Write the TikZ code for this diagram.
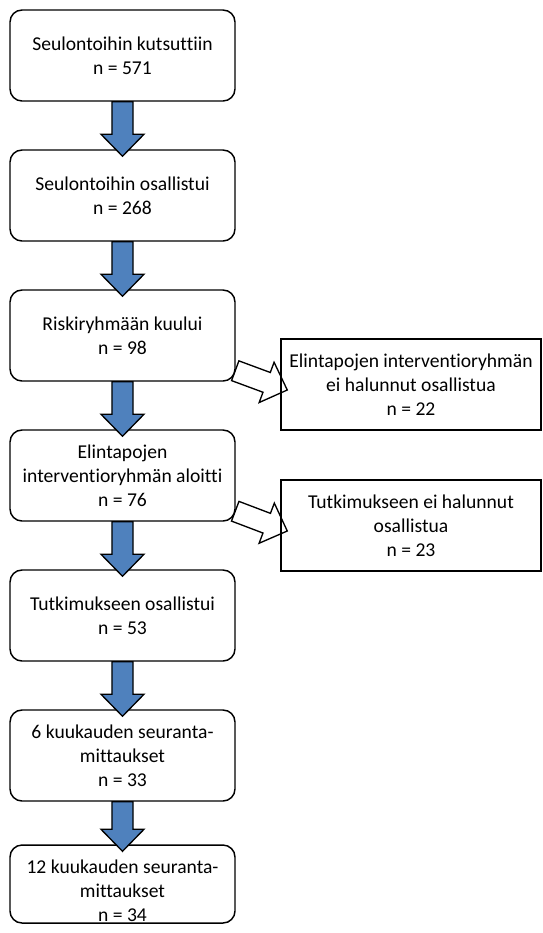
\documentclass[tikz,border=0pt]{standalone}
\usepackage{fontspec}
\setmainfont{Carlito}[RawFeature={-liga;-clig;-calt;-dlig}]
\usetikzlibrary{calc, backgrounds}
\definecolor{flowblue}{RGB}{79,129,189}
% block arrow from #2 to #3, filled with #1
\newcommand{\flowarrow}[3]{%
    \coordinate (tail) at (#2);
    \coordinate (tip) at (#3);
    \coordinate (headbase) at ($(tip)!16.5pt!(tail)$);
    \draw[line width=1pt, fill=#1] ($(tail)!7.9pt!90:(tip)$) -- ($(headbase)!7.9pt!90:(tip)$)
        -- ($(headbase)!16.1pt!90:(tip)$) -- (tip) -- ($(headbase)!16.1pt!-90:(tip)$)
        -- ($(headbase)!7.9pt!-90:(tip)$) -- ($(tail)!7.9pt!-90:(tip)$) -- cycle;
}
\begin{document}
\begin{tikzpicture}[x=0.75pt, y=-0.75pt, node distance={105pt},
        main/.style = {draw, rounded corners=9pt, line width=1.1pt, minimum width=168.75pt, minimum height=68.25pt, inner sep=0pt, align=center, font=\fontsize{14.7pt}{18pt}\selectfont},
        side/.style = {draw, line width=1.1pt, minimum width=195pt, minimum height=68.25pt, inner sep=0pt, align=center, font=\fontsize{14.7pt}{18pt}\selectfont}]
            \useasboundingbox (0,0) rectangle (543,933);
            \node[main] (1) at (122.5,55.5) {Seulontoihin kutsuttiin\\n = 571};
            \node[main] (2) [below of=1] {Seulontoihin osallistui\\n = 268};
            \node[main] (3) [below of=2] {Riskiryhmään kuului\\n = 98};
            \node[main] (4) [below of=3] {Elintapojen\\interventioryhmän aloitti\\n = 76};
            \node[main] (5) [below of=4] {Tutkimukseen osallistui\\n = 53};
            \node[main] (6) [below of=5] {6 kuukauden seuranta-\\mittaukset\\n = 33};
            \node[main, minimum height=58.5pt] (7) [below of=6, node distance=96.4pt] {};
            \node[align=center, inner sep=0pt, font=\fontsize{14.7pt}{18pt}\selectfont] (7text) [below of=7, node distance=5.25pt] {12 kuukauden seuranta-\\mittaukset\\n = 34};
            \node[side] (8) at (411,384.5) {Elintapojen interventioryhmän\\ei halunnut osallistua\\n = 22};
            \node[side] (9) at (411,525.5) {Tutkimukseen ei halunnut\\osallistua\\n = 23};
            % main flow
            \foreach \a/\b in {1/2, 2/3, 3/4, 4/5, 5/6, 6/7}
                \flowarrow{flowblue}{\a.south}{$(\b.north)+(0,7)$};
            % drop-outs
            \begin{scope}[on background layer]
                \flowarrow{white}{$(3.south east)+(-0.5,-11)$}{$(8.west)+(7,5.5)$};
                \flowarrow{white}{$(4.south east)+(-0.5,-10.5)$}{$(9.west)+(7,5.5)$};
            \end{scope}
        \end{tikzpicture}
\end{document}
